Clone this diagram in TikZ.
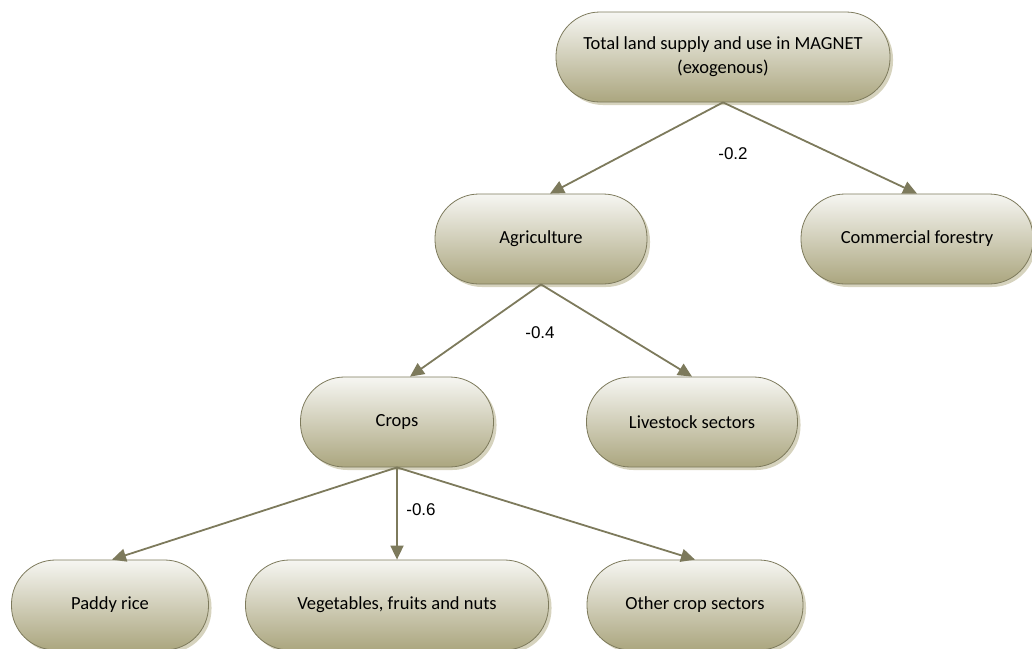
\documentclass[tikz,border=0pt]{standalone}
\usepackage{fontspec}
\setmainfont{Carlito}
\newfontfamily\labfont{Liberation Sans}
\usetikzlibrary{arrows.meta,shadows}
\definecolor{olive}{HTML}{7D7A5C}
\definecolor{olivetop}{HTML}{F6F6F2}
\definecolor{olivebot}{HTML}{ABA67F}
\definecolor{oliveshade}{HTML}{D6D3BE}
\begin{document}
\begin{tikzpicture}[x=1pt, y=-1pt,
	box/.style={draw=olive, line width=0.8pt, rounded corners=44pt, minimum height=90pt,
		top color=olivetop, bottom color=olivebot, align=center, font=\fontsize{18.5}{24}\selectfont,
		drop shadow={shadow xshift=3pt, shadow yshift=-3pt, fill=oliveshade, opacity=1}},
	link/.style={draw=olive, line width=1.8pt, -{Triangle[length=14pt,width=13pt]}},
	elast/.style={font=\labfont\fontsize{17}{20}\selectfont}]
	\useasboundingbox (0,0) rectangle (1032,648);
	% 第一层
	\node[box, minimum width=334pt] (land) at (723,57) {Total land supply and use in MAGNET\\(exogenous)};
	% 第二层
	\node[box, minimum width=212pt] (agri) at (541,239) {Agriculture};
	\node[box, minimum width=232pt] (forest) at (917,239) {Commercial forestry};
	% 第三层
	\node[box, minimum width=193pt] (crops) at (397,422) {Crops};
	\node[box, minimum width=211pt] (live) at (692,422) {Livestock sectors};
	% 第四层
	\node[box, minimum width=197pt] (paddy) at (110,605) {Paddy rice};
	\node[box, minimum width=303pt] (veg) at (397,605) {Vegetables, fruits and nuts};
	\node[box, minimum width=216pt] (other) at (695,605) {Other crop sectors};
	
	% 连线
	\draw[link] (land.south) -- ([xshift=9pt]agri.north);
	\draw[link] (land.south) -- (forest.north);
	\draw[link] (agri.south) -- ([xshift=13pt]crops.north);
	\draw[link] (agri.south) -- (live.north);
	\draw[link] (crops.south) -- ([xshift=2pt]paddy.north);
	\draw[link] (crops.south) -- (veg.north);
	\draw[link] (crops.south) -- (other.north);
	
	% 替代弹性
	\node[elast] (e1) at (733,154) {-0.2};
	\node[elast] (e2) at (540,333) {-0.4};
	\node[elast] (e3) at (421,510) {-0.6};
\end{tikzpicture}
\end{document}
